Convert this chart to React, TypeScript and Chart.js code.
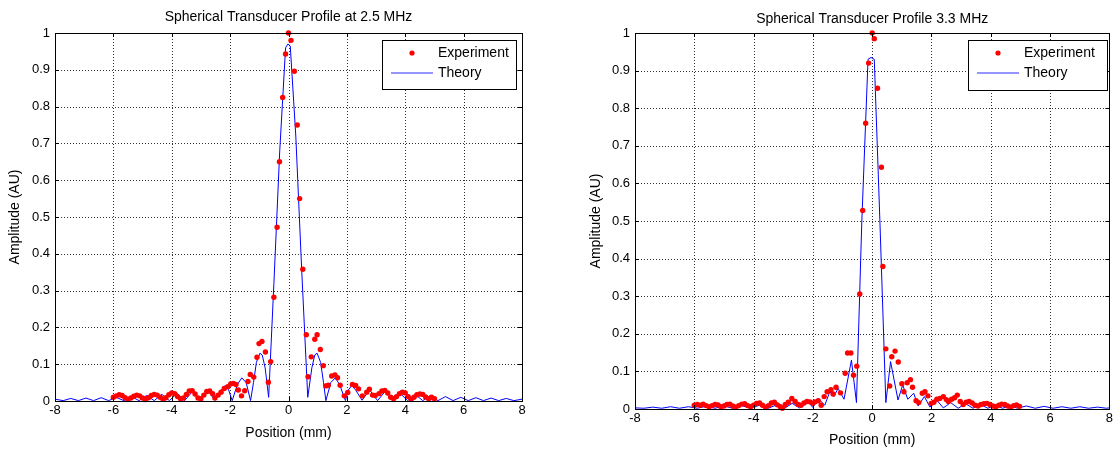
import React, { useEffect, useRef } from "react";
import { Chart, registerables } from "chart.js";
Chart.register(...registerables);

type Pt = [number, number];

const xTicks = [-8, -6, -4, -2, 0, 2, 4, 6, 8];
const yTicks = [0, 0.1, 0.2, 0.3, 0.4, 0.5, 0.6, 0.7, 0.8, 0.9, 1];
const yTickLabels = ["0", "0.1", "0.2", "0.3", "0.4", "0.5", "0.6", "0.7", "0.8", "0.9", "1"];

const titles = ["Spherical Transducer Profile at 2.5 MHz", "Spherical Transducer Profile 3.3 MHz"];
const seriesNames = ["Experiment", "Theory"];
const xAxisLabel = "Position (mm)";
const yAxisLabel = "Amplitude (AU)";

// 2.5 MHz — measured points
const experiment25: Pt[] = [
  [-6.0, 0.010], [-5.9, 0.014], [-5.8, 0.017], [-5.7, 0.015], [-5.6, 0.009], [-5.5, 0.005],
  [-5.4, 0.008], [-5.3, 0.013], [-5.2, 0.016], [-5.1, 0.014], [-5.0, 0.008], [-4.9, 0.004],
  [-4.8, 0.009], [-4.7, 0.015], [-4.6, 0.018], [-4.5, 0.016], [-4.4, 0.010], [-4.3, 0.005],
  [-4.2, 0.009], [-4.1, 0.017], [-4.0, 0.022], [-3.9, 0.020], [-3.8, 0.012], [-3.7, 0.006],
  [-3.6, 0.008], [-3.5, 0.018], [-3.4, 0.027], [-3.3, 0.028], [-3.2, 0.019], [-3.1, 0.008],
  [-3.0, 0.006], [-2.9, 0.016], [-2.8, 0.026], [-2.7, 0.027], [-2.6, 0.020], [-2.52, 0.008],
  [-2.41, 0.016], [-2.31, 0.024], [-2.2, 0.034], [-2.08, 0.039], [-1.98, 0.046], [-1.89, 0.048],
  [-1.8, 0.045], [-1.72, 0.030], [-1.61, 0.014], [-1.5, 0.028], [-1.39, 0.053], [-1.31, 0.072],
  [-1.19, 0.065], [-1.08, 0.119], [-1.01, 0.156], [-0.91, 0.162], [-0.79, 0.133], [-0.69, 0.051],
  [-0.61, 0.107], [-0.5, 0.282], [-0.39, 0.472], [-0.31, 0.65], [-0.2, 0.825], [-0.1, 0.943],
  [0, 1.0], [0.086, 0.98], [0.2, 0.896], [0.3, 0.75], [0.38, 0.55], [0.49, 0.358],
  [0.61, 0.18], [0.67, 0.066], [0.78, 0.12], [0.9, 0.168], [0.98, 0.18], [1.09, 0.14],
  [1.19, 0.096], [1.28, 0.041], [1.36, 0.043], [1.48, 0.068], [1.59, 0.071], [1.68, 0.063],
  [1.77, 0.043], [1.91, 0.014], [2.03, 0.023], [2.19, 0.045], [2.3, 0.042], [2.4, 0.033],
  [2.53, 0.014], [2.68, 0.024], [2.77, 0.032], [2.88, 0.016], [2.97, 0.015], [3.1, 0.020],
  [3.2, 0.027], [3.3, 0.029], [3.4, 0.022], [3.5, 0.010], [3.6, 0.006], [3.7, 0.012],
  [3.8, 0.020], [3.9, 0.024], [4.0, 0.022], [4.1, 0.012], [4.2, 0.005], [4.3, 0.010],
  [4.4, 0.017], [4.5, 0.019], [4.6, 0.018], [4.7, 0.011], [4.8, 0.006], [4.9, 0.010],
  [5.0, 0.006],
];

// 2.5 MHz — theory curve
const theory25: Pt[] = [
  [-8, 0.005], [-7.72, 0.001], [-7.46, 0.007], [-7.2, 0.001], [-6.94, 0.008], [-6.68, 0.001],
  [-6.42, 0.009], [-6.16, 0.001], [-5.9, 0.010], [-5.64, 0.001], [-5.38, 0.012], [-5.12, 0.001],
  [-4.86, 0.015], [-4.6, 0.001], [-4.34, 0.018], [-4.08, 0.001], [-3.82, 0.021], [-3.56, 0.001],
  [-3.3, 0.025], [-3.05, 0.001], [-2.78, 0.030], [-2.52, 0.002], [-2.3, 0.030], [-2.17, 0.042],
  [-2.05, 0.030], [-1.93, 0.001], [-1.75, 0.045], [-1.6, 0.063], [-1.45, 0.050], [-1.3, 0.001],
  [-1.2, 0.050], [-1.1, 0.105], [-0.98, 0.130], [-0.9, 0.125], [-0.8, 0.090], [-0.68, 0.010],
  [-0.5, 0.32], [-0.3, 0.68], [-0.1, 0.96], [-0.02, 0.97], [0.06, 0.965], [0.25, 0.72],
  [0.45, 0.36], [0.66, 0.010], [0.8, 0.090], [0.9, 0.125], [0.98, 0.130], [1.1, 0.105],
  [1.2, 0.050], [1.28, 0.001], [1.45, 0.050], [1.6, 0.063], [1.75, 0.045], [1.95, 0.001],
  [2.05, 0.030], [2.17, 0.042], [2.3, 0.030], [2.52, 0.002], [2.78, 0.030], [3.05, 0.001],
  [3.3, 0.025], [3.56, 0.001], [3.82, 0.021], [4.08, 0.001], [4.34, 0.018], [4.6, 0.001],
  [4.86, 0.015], [5.12, 0.001], [5.38, 0.012], [5.64, 0.001], [5.9, 0.010], [6.16, 0.001],
  [6.42, 0.009], [6.68, 0.001], [6.94, 0.008], [7.2, 0.001], [7.46, 0.007], [7.72, 0.001],
  [8, 0.005],
];

// 3.3 MHz — measured points
const experiment33: Pt[] = [
  [-6.0, 0.010], [-5.9, 0.012], [-5.8, 0.010], [-5.7, 0.013], [-5.6, 0.009], [-5.5, 0.006],
  [-5.4, 0.009], [-5.3, 0.012], [-5.2, 0.011], [-5.1, 0.006], [-5.0, 0.008], [-4.9, 0.012],
  [-4.8, 0.013], [-4.7, 0.008], [-4.6, 0.005], [-4.5, 0.009], [-4.4, 0.013], [-4.3, 0.014],
  [-4.2, 0.009], [-4.1, 0.006], [-4.0, 0.010], [-3.9, 0.015], [-3.8, 0.016], [-3.7, 0.010],
  [-3.6, 0.005], [-3.5, 0.009], [-3.4, 0.016], [-3.3, 0.018], [-3.2, 0.011], [-3.1, 0.006],
  [-3.03, 0.002], [-2.93, 0.012], [-2.83, 0.018], [-2.71, 0.028], [-2.6, 0.020], [-2.5, 0.012],
  [-2.4, 0.010], [-2.3, 0.016], [-2.2, 0.020], [-2.1, 0.019], [-2.0, 0.015], [-1.93, 0.019],
  [-1.82, 0.022], [-1.72, 0.010], [-1.62, 0.033], [-1.52, 0.046], [-1.39, 0.051], [-1.32, 0.040],
  [-1.22, 0.058], [-1.07, 0.043], [-0.91, 0.095], [-0.83, 0.149], [-0.72, 0.149], [-0.63, 0.090],
  [-0.52, 0.114], [-0.42, 0.306], [-0.32, 0.528], [-0.22, 0.76], [-0.12, 0.92], [0.0, 1.0],
  [0.07, 0.985], [0.18, 0.853], [0.31, 0.643], [0.36, 0.379], [0.46, 0.16], [0.59, 0.061],
  [0.66, 0.139], [0.77, 0.154], [0.88, 0.125], [1.0, 0.067], [1.07, 0.046], [1.18, 0.070],
  [1.29, 0.078], [1.36, 0.058], [1.48, 0.022], [1.57, 0.017], [1.69, 0.042], [1.78, 0.046],
  [1.88, 0.035], [1.99, 0.015], [2.08, 0.018], [2.18, 0.026], [2.28, 0.028], [2.4, 0.033],
  [2.5, 0.025], [2.57, 0.020], [2.68, 0.026], [2.78, 0.030], [2.87, 0.037], [2.97, 0.020],
  [3.07, 0.012], [3.17, 0.018], [3.27, 0.020], [3.37, 0.016], [3.47, 0.010], [3.57, 0.008],
  [3.67, 0.012], [3.77, 0.014], [3.87, 0.015], [3.97, 0.012], [4.07, 0.008], [4.17, 0.006],
  [4.27, 0.010], [4.37, 0.013], [4.47, 0.012], [4.57, 0.008], [4.67, 0.005], [4.77, 0.009],
  [4.87, 0.011], [4.97, 0.007],
];

// 3.3 MHz — theory curve
const theory33: Pt[] = [
  [-8, 0.003], [-7.7, 0.002], [-7.4, 0.005], [-7.1, 0.002], [-6.8, 0.006], [-6.5, 0.002],
  [-6.2, 0.006], [-5.9, 0.002], [-5.6, 0.007], [-5.3, 0.002], [-5.0, 0.008], [-4.7, 0.002],
  [-4.4, 0.009], [-4.1, 0.002], [-3.8, 0.010], [-3.5, 0.002], [-3.2, 0.012], [-2.95, 0.002],
  [-2.7, 0.015], [-2.45, 0.003], [-2.2, 0.022], [-2.0, 0.004], [-1.82, 0.028], [-1.6, 0.010],
  [-1.43, 0.046], [-1.29, 0.033], [-1.15, 0.055], [-0.95, 0.026], [-0.7, 0.130], [-0.53, 0.017],
  [-0.35, 0.5], [-0.14, 0.93], [-0.04, 0.935], [0.07, 0.93], [0.26, 0.5], [0.46, 0.017],
  [0.62, 0.126], [0.87, 0.024], [1.03, 0.064], [1.2, 0.026], [1.4, 0.042], [1.55, 0.008],
  [1.76, 0.033], [1.95, 0.005], [2.15, 0.026], [2.4, 0.003], [2.65, 0.017], [2.9, 0.002],
  [3.15, 0.014], [3.4, 0.002], [3.65, 0.012], [3.9, 0.002], [4.15, 0.010], [4.4, 0.002],
  [4.65, 0.009], [4.9, 0.002], [5.2, 0.008], [5.5, 0.002], [5.8, 0.007], [6.1, 0.002],
  [6.4, 0.006], [6.7, 0.002], [7.0, 0.006], [7.3, 0.002], [7.6, 0.005], [7.9, 0.002],
  [8, 0.003],
];

const FONT = "'Liberation Sans', Arial, Helvetica, sans-serif";
const H = 449;
const TICK_SIZE = 13;
const TEXT_SIZE = 14;

interface PanelCfg {
  left: number;
  width: number;
  area: { l: number; t: number; r: number; b: number };
  title: string;
  titleY: number;
  xLabelY: number;
  yLabelX: number;
  legend: { l: number; t: number; w: number; h: number };
  exp: Pt[];
  th: Pt[];
}

function Panel({ cfg }: { cfg: PanelCfg }) {
  const ref = useRef<HTMLCanvasElement | null>(null);
  useEffect(() => {
    const canvas = ref.current;
    if (!canvas) return;
    const { area, legend } = cfg;

    const panelPlugin = {
      id: "panelDecor",
      beforeDatasetsDraw(chart: any) {
        const { ctx, chartArea: a, scales } = chart;
        const xs = scales.x;
        const ys = scales.y;
        ctx.save();
        ctx.strokeStyle = "#333";
        ctx.lineWidth = 1;
        ctx.setLineDash([1, 2]);
        for (const t of xTicks) {
          const px = Math.round(xs.getPixelForValue(t)) + 0.5;
          ctx.beginPath();
          ctx.moveTo(px, a.top);
          ctx.lineTo(px, a.bottom);
          ctx.stroke();
        }
        for (const t of yTicks) {
          const py = Math.round(ys.getPixelForValue(t)) + 0.5;
          ctx.beginPath();
          ctx.moveTo(a.left, py);
          ctx.lineTo(a.right, py);
          ctx.stroke();
        }
        ctx.restore();
      },
      afterDraw(chart: any) {
        const { ctx, chartArea: a, scales } = chart;
        const xs = scales.x;
        const ys = scales.y;
        ctx.save();
        ctx.setLineDash([]);
        ctx.strokeStyle = "#000";
        ctx.lineWidth = 1;
        // frame
        ctx.strokeRect(Math.round(a.left) + 0.5, Math.round(a.top) + 0.5, Math.round(a.right - a.left), Math.round(a.bottom - a.top));
        // inner ticks on all four sides
        const tl = 4;
        ctx.beginPath();
        for (const t of xTicks) {
          const px = Math.round(xs.getPixelForValue(t)) + 0.5;
          ctx.moveTo(px, a.bottom);
          ctx.lineTo(px, a.bottom - tl);
          ctx.moveTo(px, a.top);
          ctx.lineTo(px, a.top + tl);
        }
        for (const t of yTicks) {
          const py = Math.round(ys.getPixelForValue(t)) + 0.5;
          ctx.moveTo(a.left, py);
          ctx.lineTo(a.left + tl, py);
          ctx.moveTo(a.right, py);
          ctx.lineTo(a.right - tl, py);
        }
        ctx.stroke();

        // legend
        ctx.fillStyle = "#fff";
        ctx.fillRect(legend.l, legend.t, legend.w, legend.h);
        ctx.strokeStyle = "#000";
        ctx.strokeRect(legend.l + 0.5, legend.t + 0.5, legend.w, legend.h);
        const r1 = legend.t + 13;
        const r2 = legend.t + 33;
        ctx.fillStyle = "#ff0000";
        ctx.beginPath();
        ctx.arc(legend.l + 30, r1, 2.6, 0, Math.PI * 2);
        ctx.fill();
        ctx.strokeStyle = "#2a2aff";
        ctx.lineWidth = 1;
        ctx.beginPath();
        ctx.moveTo(legend.l + 9, r2);
        ctx.lineTo(legend.l + 51, r2);
        ctx.stroke();
        ctx.fillStyle = "#000";
        ctx.font = `${TEXT_SIZE}px ${FONT}`;
        ctx.textAlign = "left";
        ctx.textBaseline = "middle";
        ctx.fillText(seriesNames[0], legend.l + 56, r1);
        ctx.fillText(seriesNames[1], legend.l + 56, r2);

        // title and axis labels
        const cx = (a.left + a.right) / 2;
        ctx.textAlign = "center";
        ctx.fillText(cfg.title, cx, cfg.titleY);
        ctx.fillText(xAxisLabel, cx, cfg.xLabelY);
        ctx.save();
        ctx.translate(cfg.yLabelX, (a.top + a.bottom) / 2);
        ctx.rotate(-Math.PI / 2);
        ctx.fillText(yAxisLabel, 0, 0);
        ctx.restore();
        ctx.restore();
      },
    };

    const chart = new Chart(canvas, {
      type: "scatter",
      data: {
        datasets: [
          {
            label: seriesNames[0],
            data: cfg.exp.map(([x, y]) => ({ x, y })),
            showLine: false,
            pointRadius: 2.7,
            pointBackgroundColor: "#ff0000",
            pointBorderColor: "#ff0000",
            pointBorderWidth: 0,
            order: 0,
            clip: false as any,
          },
          {
            label: seriesNames[1],
            data: cfg.th.map(([x, y]) => ({ x, y })),
            showLine: true,
            borderColor: "#0000ff",
            borderWidth: 1,
            pointRadius: 0,
            tension: 0,
            order: 1,
          },
        ],
      },
      options: {
        animation: false,
        responsive: false,
        devicePixelRatio: 1,
        events: [],
        layout: { padding: { left: 0, top: area.t, right: cfg.width - area.r, bottom: 0 } },
        plugins: { legend: { display: false }, tooltip: { enabled: false }, title: { display: false } },
        scales: {
          x: {
            type: "linear",
            min: -8,
            max: 8,
            afterBuildTicks: (s: any) => {
              s.ticks = xTicks.map((v) => ({ value: v }));
            },
            afterFit: (s: any) => {
              s.height = H - area.b;
            },
            grid: { display: false, drawTicks: false },
            border: { display: false },
            ticks: {
              padding: 2,
              color: "#000",
              maxRotation: 0,
              autoSkip: false,
              font: { family: FONT, size: TICK_SIZE },
              callback: (v: any) => String(v),
            },
          },
          y: {
            type: "linear",
            min: 0,
            max: 1,
            afterBuildTicks: (s: any) => {
              s.ticks = yTicks.map((v) => ({ value: v }));
            },
            afterFit: (s: any) => {
              s.width = area.l;
            },
            grid: { display: false, drawTicks: false },
            border: { display: false },
            ticks: {
              padding: 5,
              color: "#000",
              autoSkip: false,
              font: { family: FONT, size: TICK_SIZE },
              callback: (v: any) => {
                const i = yTicks.findIndex((t) => Math.abs(t - Number(v)) < 1e-6);
                return i >= 0 ? yTickLabels[i] : "";
              },
            },
          },
        },
      },
      plugins: [panelPlugin],
    } as any);
    return () => chart.destroy();
  }, [cfg]);

  return (
    <canvas
      ref={ref}
      width={cfg.width}
      height={H}
      style={{ position: "absolute", left: cfg.left, top: 0, width: cfg.width, height: H }}
    />
  );
}

const leftPanel: PanelCfg = {
  left: 0,
  width: 560,
  area: { l: 55, t: 33, r: 522, b: 401 },
  title: titles[0],
  titleY: 17,
  xLabelY: 433,
  yLabelX: 15,
  legend: { l: 382, t: 40, w: 134, h: 49 },
  exp: experiment25,
  th: theory25,
};

const rightPanel: PanelCfg = {
  left: 560,
  width: 555,
  area: { l: 75, t: 33, r: 552, b: 409 },
  title: titles[1],
  titleY: 19,
  xLabelY: 440,
  yLabelX: 36,
  legend: { l: 408, t: 40, w: 139, h: 50 },
  exp: experiment33,
  th: theory33,
};

export default function App() {
  return (
    <div style={{ position: "fixed", left: 0, top: 0, width: 1115, height: H, background: "#fff", overflow: "hidden" }}>
      <Panel cfg={leftPanel} />
      <Panel cfg={rightPanel} />
    </div>
  );
}
